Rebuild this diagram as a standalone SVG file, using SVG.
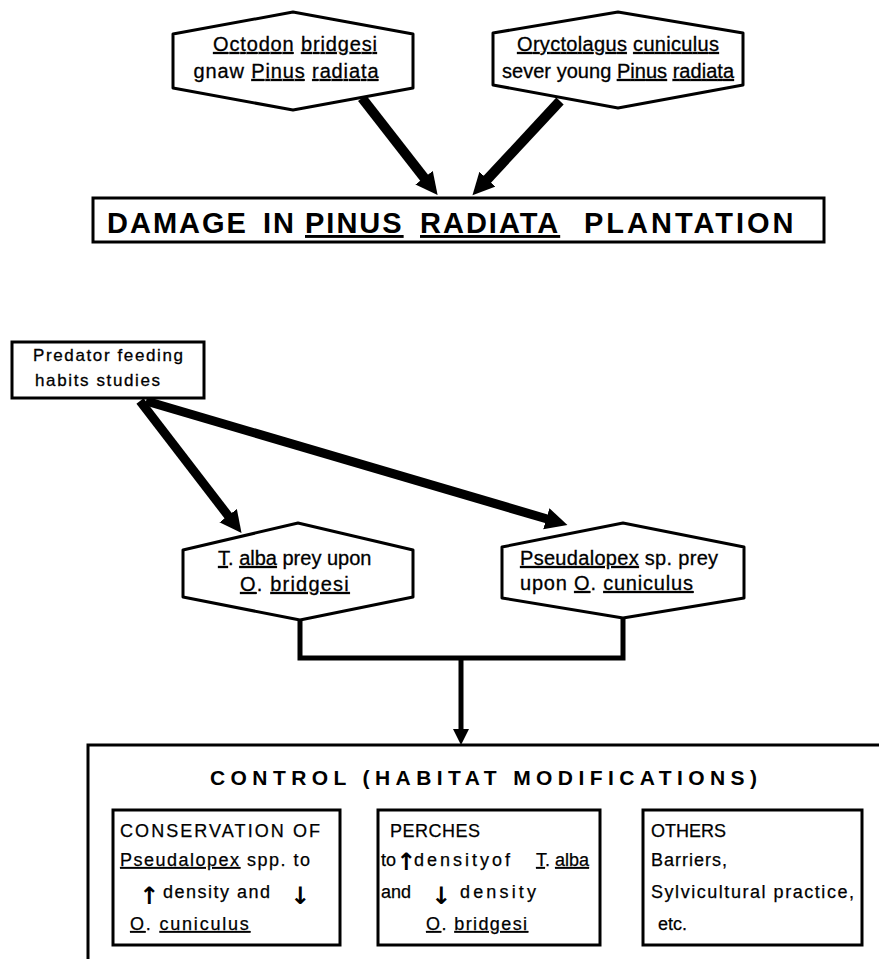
<svg xmlns="http://www.w3.org/2000/svg" width="879" height="959" viewBox="0 0 879 959">
<style>
  .bg { fill: #ffffff; }
  .hex { fill: #ffffff; stroke: #000; stroke-width: 3; stroke-linejoin: round; }
  .box { fill: #ffffff; stroke: #000; stroke-width: 3; }
  .t { font-family: "Liberation Sans", Arial, sans-serif; font-size: 20px; fill: #000; stroke: #000; stroke-width: 0.3; }
  .tc { text-anchor: middle; }
  .big { font-family: "Liberation Sans", Arial, sans-serif; font-weight: bold; font-size: 29px; letter-spacing: 2px; fill: #000; }
  .ctl { font-family: "Liberation Sans", Arial, sans-serif; font-weight: bold; font-size: 21px; fill: #000; }
  .s { font-family: "Liberation Sans", Arial, sans-serif; font-size: 18px; fill: #000; stroke: #000; stroke-width: 0.25; }
  .ar { font-family: "DejaVu Sans", sans-serif; font-size: 24px; font-weight: bold; fill: #000; }
  .u { text-decoration: underline; }
  .arr { stroke: #000; fill: none; stroke-linecap: butt; }
</style>
<defs>
  <marker id="head" markerUnits="userSpaceOnUse" markerWidth="24" markerHeight="24" refX="8" refY="11" orient="auto">
    <path d="M0,0 L22,11 L0,22 z" fill="#000"/>
  </marker>
  <marker id="headS" markerUnits="userSpaceOnUse" markerWidth="20" markerHeight="20" refX="5" refY="8" orient="auto">
    <path d="M0,0 L16,8 L0,16 z" fill="#000"/>
  </marker>
</defs>
<rect class="bg" x="0" y="0" width="879" height="959"/>

<g id="connectors">
  <line class="arr" x1="362" y1="98" x2="429" y2="184" stroke-width="10" marker-end="url(#head)"/>
  <line class="arr" x1="560" y1="101" x2="482" y2="185" stroke-width="10" marker-end="url(#head)"/>
  <line class="arr" x1="140" y1="401" x2="233" y2="522" stroke-width="9" marker-end="url(#head)"/>
  <line class="arr" x1="146" y1="401" x2="554" y2="521" stroke-width="9" marker-end="url(#head)"/>
  <polyline class="arr" points="300,620 300,658 623,658 623,618" stroke-width="5" stroke-linejoin="miter"/>
  <line class="arr" x1="461" y1="658" x2="461" y2="734" stroke-width="5" marker-end="url(#headS)"/>
</g>

<g id="node-octodon">
  <polygon class="hex" points="293,12 413,34 413,88 293,110 173,88 173,34"/>
  <text class="t tc" x="295" y="51" textLength="164" lengthAdjust="spacing"><tspan class="u">Octodon</tspan> <tspan class="u">bridgesi</tspan></text>
  <text class="t tc" x="286" y="78" textLength="185" lengthAdjust="spacing">gnaw  <tspan class="u">Pinus</tspan> <tspan class="u">radiata</tspan></text>
</g>

<g id="node-oryctolagus">
  <polygon class="hex" points="618,12 743,33 743,85 618,108 493,85 493,33"/>
  <text class="t tc" x="618" y="51" textLength="202" lengthAdjust="spacing"><tspan class="u">Oryctolagus</tspan> <tspan class="u">cuniculus</tspan></text>
  <text class="t tc" x="618" y="78" textLength="232" lengthAdjust="spacing">sever young <tspan class="u">Pinus</tspan> <tspan class="u">radiata</tspan></text>
</g>

<g id="node-damage">
  <rect class="box" x="93" y="198" width="731" height="44"/>
  <text class="big" y="233"><tspan x="107">DAMAGE</tspan><tspan x="263">IN</tspan><tspan x="305" class="u">PINUS</tspan><tspan x="420" class="u">RADIATA</tspan><tspan x="584" style="letter-spacing:3px">PLANTATION</tspan></text>
</g>

<g id="node-predator">
  <rect class="box" x="12" y="342" width="192" height="56" stroke-width="2.5"/>
  <text class="t" x="33" y="361" style="font-size:17px" textLength="150" lengthAdjust="spacing">Predator  feeding</text>
  <text class="t" x="35" y="386" style="font-size:17px" textLength="125" lengthAdjust="spacing">habits studies</text>
</g>

<g id="node-talba">
  <polygon class="hex" points="298,523 413,550 413,597 300,620 183,597 183,550"/>
  <text class="t" x="218" y="565"><tspan class="u">T</tspan>. <tspan class="u">alba</tspan> prey upon</text>
  <text class="t" x="240" y="591" style="letter-spacing:1.2px"><tspan class="u">O</tspan>. <tspan class="u">bridgesi</tspan></text>
</g>

<g id="node-pseudalopex">
  <polygon class="hex" points="623,523 744,547 744,598 623,618 502,598 502,547"/>
  <text class="t" x="520" y="565" style="letter-spacing:0.3px"><tspan class="u">Pseudalopex</tspan> sp.  prey</text>
  <text class="t" x="520" y="590" style="letter-spacing:0.8px">upon  <tspan class="u">O</tspan>. <tspan class="u">cuniculus</tspan></text>
</g>

<g id="node-control">
  <path d="M88,959 L88,745 L879,745" fill="none" stroke="#000" stroke-width="3"/>
  <text class="ctl" x="210" y="785" textLength="547" lengthAdjust="spacing">CONTROL (HABITAT  MODIFICATIONS)</text>
</g>

<g id="node-conservation">
  <rect class="box" x="113" y="810" width="227" height="135" stroke-width="2.5"/>
  <text class="s" x="120" y="837" textLength="200" lengthAdjust="spacing">CONSERVATION  OF</text>
  <text class="s" x="120" y="866" style="letter-spacing:1.5px"><tspan class="u">Pseudalopex</tspan> spp. to</text>
  <text class="ar" x="139" y="904">↑</text>
  <text class="s" x="163" y="898" textLength="107" lengthAdjust="spacing">density and</text>
  <text class="ar" x="290" y="904">↓</text>
  <text class="s" x="130" y="930" style="letter-spacing:1.8px"><tspan class="u">O</tspan>.  <tspan class="u">cuniculus</tspan></text>
</g>

<g id="node-perches">
  <rect class="box" x="378" y="810" width="222" height="135" stroke-width="2.5"/>
  <text class="s" x="390" y="837" textLength="90" lengthAdjust="spacing">PERCHES</text>
  <text class="s" x="381" y="866">to</text>
  <text class="ar" x="396" y="870">↑</text>
  <text class="s" x="414" y="866" textLength="96" lengthAdjust="spacing">densityof</text>
  <text class="s" x="536" y="866"><tspan class="u">T</tspan>. <tspan class="u">alba</tspan></text>
  <text class="s" x="381" y="898">and</text>
  <text class="ar" x="431" y="904">↓</text>
  <text class="s" x="460" y="898" textLength="76" lengthAdjust="spacing">density</text>
  <text class="s" x="426" y="930" style="letter-spacing:1.4px"><tspan class="u">O</tspan>. <tspan class="u">bridgesi</tspan></text>
</g>

<g id="node-others">
  <rect class="box" x="643" y="810" width="219" height="135" stroke-width="2.5"/>
  <text class="s" x="651" y="837">OTHERS</text>
  <text class="s" x="651" y="866" textLength="76" lengthAdjust="spacing">Barriers,</text>
  <text class="s" x="651" y="898" textLength="203" lengthAdjust="spacing">Sylvicultural practice,</text>
  <text class="s" x="658" y="930">etc.</text>
</g>
</svg>
